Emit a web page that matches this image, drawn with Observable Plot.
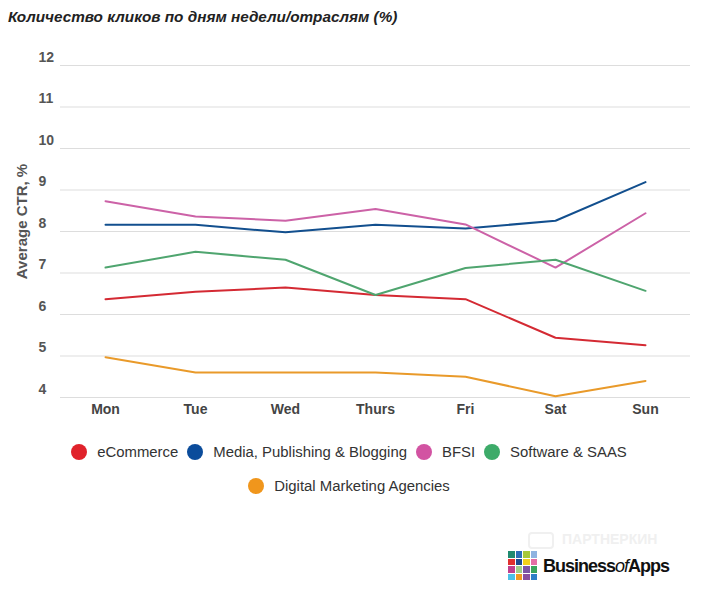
<!DOCTYPE html>
<html>
<head>
<meta charset="utf-8">
<script src="https://cdn.jsdelivr.net/npm/d3@7"></script>
<script src="https://cdn.jsdelivr.net/npm/@observablehq/plot@0.6"></script>
<style>
  body { margin: 0; background: #fff; font-family: "Liberation Sans", Arial, sans-serif; }
  #wrap { position: relative; width: 707px; height: 600px; overflow: hidden; }
  #title { position: absolute; left: 8px; top: 8px; font-size: 15.3px; font-weight: bold; font-style: italic; color: #222; }
  #chart { position: absolute; left: 0; top: 40px; }
  #legend { position: absolute; left: 44px; top: 443px; width: 610px; display: flex; flex-wrap: wrap; justify-content: center; row-gap: 16px; column-gap: 9px; }
  .item { display: flex; align-items: center; font-size: 14.9px; color: #333; height: 18px; }
  .dot { width: 16px; height: 16px; border-radius: 50%; margin-right: 10px; }
  #logo { position: absolute; left: 508px; top: 551px; }
  #grid { position: absolute; left: 0; top: 0; display: grid; grid-template-columns: repeat(4, 6.5px); gap: 1px; }
  #grid div { width: 6.5px; height: 6.5px; }
  #brand { position: absolute; left: 35px; top: 5px; font-size: 18px; font-weight: bold; color: #111; letter-spacing: -1px; white-space: nowrap; }
  #brand i { font-weight: normal; }
  #wm { position: absolute; left: 528px; top: 531px; color: #f0f0f0; font-size: 14px; font-weight: bold; white-space: nowrap; }
  #wm span.box { display: inline-block; width: 22px; height: 13px; border: 2px solid #f0f0f0; border-radius: 4px; vertical-align: middle; margin-right: 8px; }
</style>
</head>
<body>
<div id="wrap">
  <div id="title">Количество кликов по дням недели/отраслям (%)</div>
  <div id="chart"></div>
  <div id="legend"></div>
  <div id="wm"><span class="box"></span>ПАРТНЕРКИН</div>
  <div id="logo"><div id="grid"></div><div id="brand">Business<i>of</i>Apps</div></div>
</div>
<script>
const days = ["Mon", "Tue", "Wed", "Thurs", "Fri", "Sat", "Sun"];
const seriesNames = ["eCommerce", "Media, Publishing & Blogging", "BFSI", "Software & SAAS", "Digital Marketing Agencies"];
const eCommerce = [6.37, 6.55, 6.65, 6.47, 6.37, 5.44, 5.26];
const media = [8.16, 8.16, 7.98, 8.16, 8.07, 8.26, 9.19];
const bfsi = [8.73, 8.36, 8.26, 8.54, 8.17, 7.13, 8.44];
const software = [7.13, 7.51, 7.32, 6.47, 7.12, 7.32, 6.57];
const digital = [4.97, 4.60, 4.60, 4.60, 4.50, 4.03, 4.40];
const seriesColors = ["#d42a33", "#124f8e", "#cc62a7", "#4fa56f", "#e99a2a"];
const legendColors = ["#e0222b", "#0b4c9b", "#d253a2", "#3dab69", "#f0961c"];
const yTicks = [4, 5, 6, 7, 8, 9, 10, 11, 12];
const yLabel = "Average CTR, %";
const logoColors = ["#1f8a70", "#2a6fb8", "#a6c83a", "#8fb3e0",
                    "#e0302f", "#1d4c8f", "#f2d21b", "#e46fa5",
                    "#c0408e", "#9fd08a", "#7d55a6", "#3aa55c",
                    "#4cc1e8", "#f29a1f", "#8a4fa0", "#2e7fc7"];

const valuesBySeries = [eCommerce, media, bfsi, software, digital];
const rows = seriesNames.flatMap((s, i) => days.map((d, j) => ({series: s, day: d, value: valuesBySeries[i][j]})));

const chart = Plot.plot({
  width: 707,
  height: 385,
  marginTop: 25,
  marginBottom: 28,
  marginLeft: 60,
  marginRight: 17,
  style: {fontFamily: "'Liberation Sans', Arial, sans-serif", fontSize: "14px", color: "#555", background: "transparent"},
  x: {type: "point", domain: days, padding: 0.5},
  y: {domain: [4, 12]},
  color: {domain: seriesNames, range: seriesColors},
  marks: [
    Plot.gridY({ticks: yTicks, stroke: "#dddddd", strokeOpacity: 1}),
    Plot.axisY({ticks: yTicks, tickSize: 0, tickPadding: 0, textAnchor: "start", dx: -22, dy: -8, fontWeight: "bold", label: null}),
    Plot.axisX({tickSize: 0, tickPadding: 7, fontWeight: "bold", fill: "#444", label: null}),
    Plot.line(rows, {x: "day", y: "value", stroke: "series", strokeWidth: 2}),
    Plot.text([yLabel], {frameAnchor: "left", textAnchor: "middle", rotate: -90, dx: -38, dy: -10, fontWeight: "bold", fill: "#555", fontSize: 15})
  ]
});
document.getElementById("chart").appendChild(chart);

const legend = document.getElementById("legend");
seriesNames.forEach((s, i) => {
  const it = document.createElement("div");
  it.className = "item";
  const dot = document.createElement("span");
  dot.className = "dot";
  dot.style.background = legendColors[i];
  it.appendChild(dot);
  it.appendChild(document.createTextNode(s));
  legend.appendChild(it);
});

const grid = document.getElementById("grid");
logoColors.forEach(c => { const d = document.createElement("div"); d.style.background = c; grid.appendChild(d); });
</script>
</body>
</html>
